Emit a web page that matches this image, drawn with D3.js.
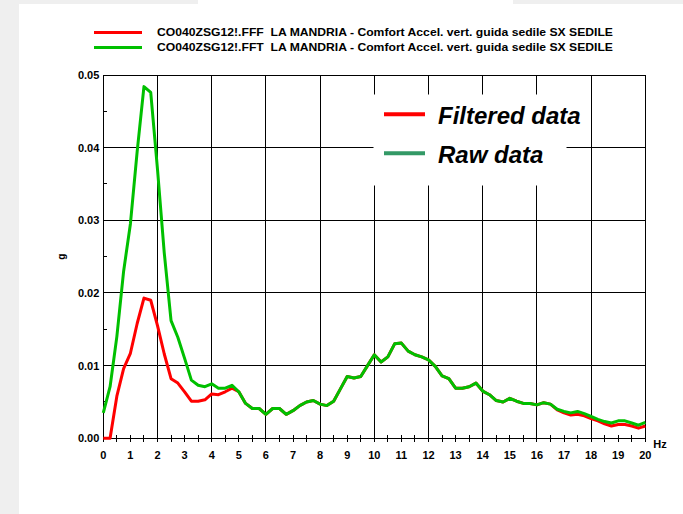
<!DOCTYPE html>
<html>
<head>
<meta charset="utf-8">
<script src="https://cdn.jsdelivr.net/npm/d3@7"></script>
<style>
  html, body { margin: 0; padding: 0; background: #ffffff; }
  svg { display: block; font-family: "Liberation Sans", Arial, sans-serif; }
  .keep { white-space: pre; }
</style>
</head>
<body>
<svg id="chart"></svg>
<script>
// spectrum sampled every 0.25 Hz, 0..20 Hz
var freqStep = 0.25;
var rawData = [
  0.0035, 0.0071, 0.0140, 0.0230, 0.0295, 0.0395, 0.0484, 0.0476,
  0.0370, 0.0255, 0.0162, 0.0139, 0.0110, 0.0080, 0.0073, 0.0071,
  0.0075, 0.0069, 0.0069, 0.0073, 0.0064, 0.0048, 0.0041, 0.0041,
  0.0033, 0.0041, 0.0041, 0.0033, 0.0038, 0.0045, 0.0050, 0.0052,
  0.0047, 0.0045, 0.0051, 0.0068, 0.0085, 0.0083, 0.0085, 0.0100,
  0.0115, 0.0105, 0.0112, 0.0130, 0.0131, 0.0120, 0.0115, 0.0112,
  0.0108, 0.0099, 0.0086, 0.0082, 0.0069, 0.0069, 0.0071, 0.0076,
  0.0065, 0.0060, 0.0052, 0.0050, 0.0055, 0.0051, 0.0048, 0.0048,
  0.0046, 0.0049, 0.0047, 0.0040, 0.0037, 0.0035, 0.0037, 0.0034,
  0.0030, 0.0026, 0.0023, 0.0021, 0.0024, 0.0024, 0.0021, 0.0018,
  0.0022
];
var filteredData = [
  0.0000, 0.0000, 0.0058, 0.0096, 0.0117, 0.0158, 0.0193, 0.0190,
  0.0155, 0.0116, 0.0082, 0.0076, 0.0064, 0.0051, 0.0051, 0.0053,
  0.0061, 0.0060, 0.0064, 0.0069, 0.0064, 0.0048, 0.0041, 0.0041,
  0.0033, 0.0041, 0.0041, 0.0033, 0.0038, 0.0045, 0.0050, 0.0052,
  0.0047, 0.0045, 0.0051, 0.0068, 0.0085, 0.0083, 0.0085, 0.0100,
  0.0115, 0.0105, 0.0112, 0.0130, 0.0131, 0.0120, 0.0115, 0.0112,
  0.0108, 0.0099, 0.0086, 0.0082, 0.0069, 0.0069, 0.0071, 0.0076,
  0.0065, 0.0060, 0.0052, 0.0050, 0.0055, 0.0051, 0.0048, 0.0048,
  0.0046, 0.0049, 0.0047, 0.0039, 0.0035, 0.0032, 0.0033, 0.0031,
  0.0027, 0.0024, 0.0020, 0.0017, 0.0019, 0.0019, 0.0017, 0.0014,
  0.0017
];
var xTicks = d3.range(0, 21, 1);
var xGrid = d3.range(0, 21, 2);
var xMinor = d3.range(0, 20.01, 0.5);
var yTicks = [0, 0.01, 0.02, 0.03, 0.04, 0.05];
var yMinor = [0.005, 0.015, 0.025, 0.035, 0.045];
var fileLegend = [
  {label: 'CO040ZSG12!.FFF  LA MANDRIA - Comfort Accel. vert. guida sedile SX SEDILE', color: '#ff0000'},
  {label: 'CO040ZSG12!.FFT  LA MANDRIA - Comfort Accel. vert. guida sedile SX SEDILE', color: '#00c000'}
];
var boxLegend = [
  {label: 'Filtered data', color: '#ff0000'},
  {label: 'Raw data', color: '#339966'}
];

var width = 683, height = 514;
var margin = {left: 103.3, right: 683 - 645.3, top: 75, bottom: 514 - 438.3};

var svg = d3.select('#chart')
  .attr('width', width)
  .attr('height', height);

// page background: light grey frame on the left and top corners
svg.append('rect').attr('x', 0).attr('y', 0).attr('width', width).attr('height', height).attr('fill', '#ffffff');
svg.append('rect').attr('x', 0).attr('y', 0).attr('width', 19).attr('height', height).attr('fill', '#efefef');
svg.append('rect').attr('x', 0).attr('y', 0).attr('width', 198).attr('height', 4).attr('fill', '#efefef');
svg.append('rect').attr('x', 513).attr('y', 0).attr('width', 170).attr('height', 4).attr('fill', '#efefef');

var x = d3.scaleLinear().domain([0, 20]).range([margin.left, width - margin.right]);
var y = d3.scaleLinear().domain([0, 0.05]).range([height - margin.bottom, margin.top]);

// grid
var grid = svg.append('g').attr('stroke', '#000').attr('stroke-width', 1).attr('shape-rendering', 'crispEdges');
grid.selectAll('.vg').data(xGrid).enter().append('line')
  .attr('x1', d => x(d)).attr('x2', d => x(d))
  .attr('y1', y(0.05)).attr('y2', y(0) + 3.5);
grid.selectAll('.hg').data(yTicks).enter().append('line')
  .attr('x1', x(0)).attr('x2', x(20))
  .attr('y1', d => y(d)).attr('y2', d => y(d));
// x minor ticks cross the axis
grid.selectAll('.xm').data(xMinor).enter().append('line')
  .attr('x1', d => x(d)).attr('x2', d => x(d))
  .attr('y1', y(0) - 3).attr('y2', y(0) + 3.5);
// y minor ticks point inward
grid.selectAll('.ym').data(yMinor).enter().append('line')
  .attr('x1', x(0)).attr('x2', x(0) + 4)
  .attr('y1', d => y(d)).attr('y2', d => y(d));

// tick labels
svg.append('g').selectAll('text').data(xTicks).enter().append('text')
  .attr('x', d => x(d)).attr('y', y(0) + 21)
  .attr('text-anchor', 'middle')
  .attr('font-size', 11).attr('font-weight', 'bold')
  .text(d => d);
svg.append('g').selectAll('text').data(yTicks).enter().append('text')
  .attr('x', x(0) - 4).attr('y', d => y(d) + 4)
  .attr('text-anchor', 'end')
  .attr('font-size', 11).attr('font-weight', 'bold')
  .text(d => d.toFixed(2));
svg.append('text')
  .attr('x', x(20) + 8).attr('y', y(0) + 10)
  .attr('font-size', 11).attr('font-weight', 'bold')
  .text('Hz');
svg.append('text')
  .attr('transform', 'translate(65,' + y(0.025) + ') rotate(-90)')
  .attr('text-anchor', 'middle')
  .attr('font-size', 10).attr('font-weight', 'bold')
  .text('g');

// legend box inside plot (white, covers grid)
var lg = svg.append('g');
lg.append('rect')
  .attr('x', 373.5).attr('y', 94.5).attr('width', 193).attr('height', 91)
  .attr('fill', '#ffffff');
boxLegend.forEach(function(d, i) {
  var ly = 114.3 + i * 39;
  lg.append('line')
    .attr('x1', 384).attr('x2', 425).attr('y1', ly).attr('y2', ly)
    .attr('stroke', d.color).attr('stroke-width', 4);
  lg.append('text')
    .attr('x', 438).attr('y', ly + 10)
    .attr('font-size', 24).attr('font-weight', 'bold').attr('font-style', 'italic')
    .text(d.label);
});

// data lines
var line = d3.line()
  .x((d, i) => x(i * freqStep))
  .y(d => y(d));
svg.append('path').datum(filteredData)
  .attr('fill', 'none').attr('stroke', '#ff0000').attr('stroke-width', 3)
  .attr('stroke-linejoin', 'round')
  .attr('d', line);
svg.append('path').datum(rawData)
  .attr('fill', 'none').attr('stroke', '#00c000').attr('stroke-width', 3)
  .attr('stroke-linejoin', 'round')
  .attr('d', line);

// file legend at top
fileLegend.forEach(function(d, i) {
  var ly = 32.5 + i * 15;
  svg.append('line')
    .attr('x1', 94).attr('x2', 142).attr('y1', ly).attr('y2', ly)
    .attr('stroke', d.color).attr('stroke-width', 3);
  svg.append('text')
    .attr('class', 'keep')
    .attr('x', 157).attr('y', ly + 3.5)
    .attr('font-size', 10).attr('font-weight', 'bold')
    .attr('textLength', 456).attr('lengthAdjust', 'spacingAndGlyphs')
    .text(d.label);
});
</script>
</body>
</html>
